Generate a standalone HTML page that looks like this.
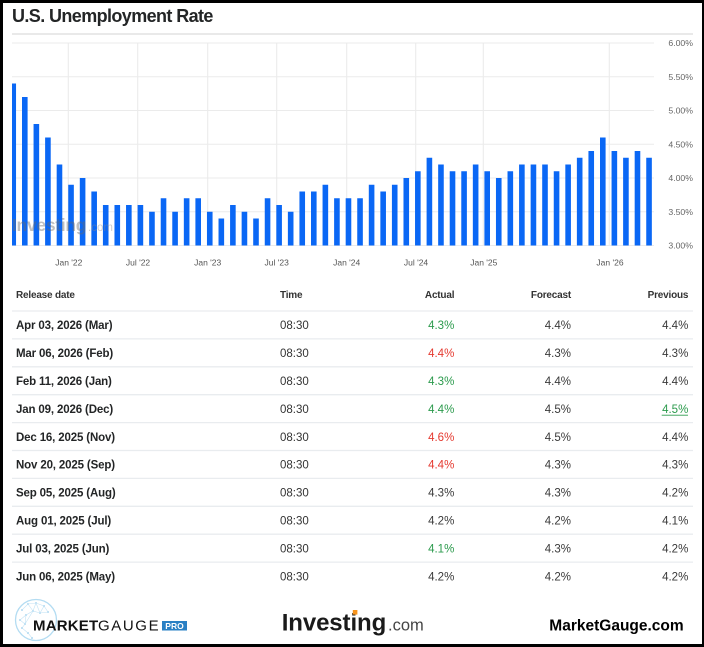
<!DOCTYPE html>
<html><head><meta charset="utf-8"><style>
html,body{margin:0;padding:0;background:#fff}
body{width:704px;height:647px;overflow:hidden;position:relative}
.frame{position:absolute;left:0;top:0;width:704px;height:647px;box-sizing:border-box;border-top:3px solid #000;border-left:3px solid #000;border-bottom:3px solid #000;border-right:2px solid #000;pointer-events:none}
svg{position:absolute;left:0;top:0}
text{font-family:"Liberation Sans",Arial,sans-serif}
</style></head><body>
<svg width="704" height="647" viewBox="0 0 704 647" xmlns="http://www.w3.org/2000/svg">
<rect x="0" y="0" width="704" height="647" fill="#fff"/>
<!-- title -->
<text x="12" y="22" font-size="18" font-weight="bold" fill="#232526" letter-spacing="-0.6">U.S. Unemployment Rate</text>
<rect x="12" y="33" width="681" height="2" fill="#e9e9e9"/>
<!-- gridlines -->
<g stroke="#ebebeb" stroke-width="1.1">
<line x1="12" y1="43" x2="654" y2="43"/>
<line x1="12" y1="76.75" x2="654" y2="76.75"/>
<line x1="12" y1="110.5" x2="654" y2="110.5"/>
<line x1="12" y1="144.25" x2="654" y2="144.25"/>
<line x1="12" y1="178" x2="654" y2="178"/>
<line x1="12" y1="211.75" x2="654" y2="211.75"/>
<line x1="12" y1="245.5" x2="654" y2="245.5"/>
<line x1="68.3" y1="43" x2="68.3" y2="245.5"/>
<line x1="137.7" y1="43" x2="137.7" y2="245.5"/>
<line x1="207.7" y1="43" x2="207.7" y2="245.5"/>
<line x1="276.7" y1="43" x2="276.7" y2="245.5"/>
<line x1="346.7" y1="43" x2="346.7" y2="245.5"/>
<line x1="415.7" y1="43" x2="415.7" y2="245.5"/>
<line x1="483.3" y1="43" x2="483.3" y2="245.5"/>
<line x1="609.3" y1="43" x2="609.3" y2="245.5"/>
</g>
<!-- bars -->
<g fill="#0a67f5">
<rect x="12" y="83.5" width="4.04" height="162"/>
<rect x="22.00" y="97" width="5.6" height="148.5"/>
<rect x="33.56" y="124" width="5.6" height="121.5"/>
<rect x="45.12" y="137.5" width="5.6" height="108"/>
<rect x="56.68" y="164.5" width="5.6" height="81"/>
<rect x="68.24" y="184.75" width="5.6" height="60.75"/>
<rect x="79.80" y="178" width="5.6" height="67.5"/>
<rect x="91.36" y="191.5" width="5.6" height="54"/>
<rect x="102.92" y="205" width="5.6" height="40.5"/>
<rect x="114.48" y="205" width="5.6" height="40.5"/>
<rect x="126.04" y="205" width="5.6" height="40.5"/>
<rect x="137.60" y="205" width="5.6" height="40.5"/>
<rect x="149.16" y="211.75" width="5.6" height="33.75"/>
<rect x="160.72" y="198.25" width="5.6" height="47.25"/>
<rect x="172.28" y="211.75" width="5.6" height="33.75"/>
<rect x="183.84" y="198.25" width="5.6" height="47.25"/>
<rect x="195.40" y="198.25" width="5.6" height="47.25"/>
<rect x="206.96" y="211.75" width="5.6" height="33.75"/>
<rect x="218.52" y="218.5" width="5.6" height="27"/>
<rect x="230.08" y="205" width="5.6" height="40.5"/>
<rect x="241.64" y="211.75" width="5.6" height="33.75"/>
<rect x="253.20" y="218.5" width="5.6" height="27"/>
<rect x="264.76" y="198.25" width="5.6" height="47.25"/>
<rect x="276.32" y="205" width="5.6" height="40.5"/>
<rect x="287.88" y="211.75" width="5.6" height="33.75"/>
<rect x="299.44" y="191.5" width="5.6" height="54"/>
<rect x="311.00" y="191.5" width="5.6" height="54"/>
<rect x="322.56" y="184.75" width="5.6" height="60.75"/>
<rect x="334.12" y="198.25" width="5.6" height="47.25"/>
<rect x="345.68" y="198.25" width="5.6" height="47.25"/>
<rect x="357.24" y="198.25" width="5.6" height="47.25"/>
<rect x="368.80" y="184.75" width="5.6" height="60.75"/>
<rect x="380.36" y="191.5" width="5.6" height="54"/>
<rect x="391.92" y="184.75" width="5.6" height="60.75"/>
<rect x="403.48" y="178" width="5.6" height="67.5"/>
<rect x="415.04" y="171.25" width="5.6" height="74.25"/>
<rect x="426.60" y="157.75" width="5.6" height="87.75"/>
<rect x="438.16" y="164.5" width="5.6" height="81"/>
<rect x="449.72" y="171.25" width="5.6" height="74.25"/>
<rect x="461.28" y="171.25" width="5.6" height="74.25"/>
<rect x="472.84" y="164.5" width="5.6" height="81"/>
<rect x="484.40" y="171.25" width="5.6" height="74.25"/>
<rect x="495.96" y="178" width="5.6" height="67.5"/>
<rect x="507.52" y="171.25" width="5.6" height="74.25"/>
<rect x="519.08" y="164.5" width="5.6" height="81"/>
<rect x="530.64" y="164.5" width="5.6" height="81"/>
<rect x="542.20" y="164.5" width="5.6" height="81"/>
<rect x="553.76" y="171.25" width="5.6" height="74.25"/>
<rect x="565.32" y="164.5" width="5.6" height="81"/>
<rect x="576.88" y="157.75" width="5.6" height="87.75"/>
<rect x="588.44" y="151" width="5.6" height="94.5"/>
<rect x="600.00" y="137.5" width="5.6" height="108"/>
<rect x="611.56" y="151" width="5.6" height="94.5"/>
<rect x="623.12" y="157.75" width="5.6" height="87.75"/>
<rect x="634.68" y="151" width="5.6" height="94.5"/>
<rect x="646.24" y="157.75" width="5.6" height="87.75"/>
</g>
<!-- watermark -->
<g opacity="0.42">
<text x="12" y="231" font-size="17.5" font-weight="bold" fill="#6a6a6a" letter-spacing="-0.3">Investing</text>
<text x="88" y="231" font-size="11.5" fill="#8a8a8a">.com</text>
</g>
<!-- y labels -->
<g font-size="8.7" fill="#666" text-anchor="end">
<text x="693" y="46">6.00%</text>
<text x="693" y="79.8">5.50%</text>
<text x="693" y="113.5">5.00%</text>
<text x="693" y="147.3">4.50%</text>
<text x="693" y="181">4.00%</text>
<text x="693" y="214.8">3.50%</text>
<text x="693" y="248.5">3.00%</text>
</g>
<!-- x labels -->
<g font-size="8.5" fill="#555" text-anchor="middle">
<text x="68.8" y="265.5">Jan '22</text>
<text x="138" y="265.5">Jul '22</text>
<text x="207.7" y="265.5">Jan '23</text>
<text x="276.7" y="265.5">Jul '23</text>
<text x="346.7" y="265.5">Jan '24</text>
<text x="416" y="265.5">Jul '24</text>
<text x="483.8" y="265.5">Jan '25</text>
<text x="610" y="265.5">Jan '26</text>
</g>
<!-- table header -->
<g font-size="10" font-weight="bold" fill="#333" letter-spacing="-0.2">
<text x="16" y="298">Release date</text>
<text x="280" y="298">Time</text>
<text x="454.3" y="298" text-anchor="end">Actual</text>
<text x="571" y="298" text-anchor="end">Forecast</text>
<text x="688.3" y="298" text-anchor="end">Previous</text>
</g>
<!-- dividers -->
<g stroke="#e9ecef" stroke-width="1.3">
<line x1="12" y1="311" x2="693" y2="311"/>
<line x1="12" y1="338.9" x2="693" y2="338.9"/>
<line x1="12" y1="366.8" x2="693" y2="366.8"/>
<line x1="12" y1="394.7" x2="693" y2="394.7"/>
<line x1="12" y1="422.6" x2="693" y2="422.6"/>
<line x1="12" y1="450.5" x2="693" y2="450.5"/>
<line x1="12" y1="478.4" x2="693" y2="478.4"/>
<line x1="12" y1="506.3" x2="693" y2="506.3"/>
<line x1="12" y1="534.2" x2="693" y2="534.2"/>
<line x1="12" y1="562.1" x2="693" y2="562.1"/>
</g>
<!-- dates -->
<g font-size="11.5" font-weight="bold" fill="#232526" letter-spacing="-0.15">
<text x="16" y="329.2">Apr 03, 2026 (Mar)</text>
<text x="16" y="357.1">Mar 06, 2026 (Feb)</text>
<text x="16" y="385">Feb 11, 2026 (Jan)</text>
<text x="16" y="412.9">Jan 09, 2026 (Dec)</text>
<text x="16" y="440.8">Dec 16, 2025 (Nov)</text>
<text x="16" y="468.7">Nov 20, 2025 (Sep)</text>
<text x="16" y="496.6">Sep 05, 2025 (Aug)</text>
<text x="16" y="524.5">Aug 01, 2025 (Jul)</text>
<text x="16" y="552.4">Jul 03, 2025 (Jun)</text>
<text x="16" y="580.3">Jun 06, 2025 (May)</text>
</g>
<!-- times -->
<g font-size="11.5" fill="#333">
<text x="280" y="329.2">08:30</text>
<text x="280" y="357.1">08:30</text>
<text x="280" y="385">08:30</text>
<text x="280" y="412.9">08:30</text>
<text x="280" y="440.8">08:30</text>
<text x="280" y="468.7">08:30</text>
<text x="280" y="496.6">08:30</text>
<text x="280" y="524.5">08:30</text>
<text x="280" y="552.4">08:30</text>
<text x="280" y="580.3">08:30</text>
</g>
<!-- actual -->
<g font-size="11.5" text-anchor="end">
<text x="454.3" y="329.2" fill="#2b9a4c">4.3%</text>
<text x="454.3" y="357.1" fill="#e5392f">4.4%</text>
<text x="454.3" y="385" fill="#2b9a4c">4.3%</text>
<text x="454.3" y="412.9" fill="#2b9a4c">4.4%</text>
<text x="454.3" y="440.8" fill="#e5392f">4.6%</text>
<text x="454.3" y="468.7" fill="#e5392f">4.4%</text>
<text x="454.3" y="496.6" fill="#3a3a3a">4.3%</text>
<text x="454.3" y="524.5" fill="#3a3a3a">4.2%</text>
<text x="454.3" y="552.4" fill="#2b9a4c">4.1%</text>
<text x="454.3" y="580.3" fill="#3a3a3a">4.2%</text>
</g>
<!-- forecast -->
<g font-size="11.5" text-anchor="end" fill="#3a3a3a">
<text x="571" y="329.2">4.4%</text>
<text x="571" y="357.1">4.3%</text>
<text x="571" y="385">4.4%</text>
<text x="571" y="412.9">4.5%</text>
<text x="571" y="440.8">4.5%</text>
<text x="571" y="468.7">4.3%</text>
<text x="571" y="496.6">4.3%</text>
<text x="571" y="524.5">4.2%</text>
<text x="571" y="552.4">4.3%</text>
<text x="571" y="580.3">4.2%</text>
</g>
<!-- previous -->
<g font-size="11.5" text-anchor="end" fill="#3a3a3a">
<text x="688.3" y="329.2">4.4%</text>
<text x="688.3" y="357.1">4.3%</text>
<text x="688.3" y="385">4.4%</text>
<text x="688.3" y="412.9" fill="#2b9a4c">4.5%</text>
<text x="688.3" y="440.8">4.4%</text>
<text x="688.3" y="468.7">4.3%</text>
<text x="688.3" y="496.6">4.2%</text>
<text x="688.3" y="524.5">4.1%</text>
<text x="688.3" y="552.4">4.2%</text>
<text x="688.3" y="580.3">4.2%</text>
</g>
<line x1="661.7" y1="415.2" x2="688" y2="415.2" stroke="#2b9a4c" stroke-width="0.9"/>
<!-- footer: MarketGauge PRO logo -->
<g opacity="0.85">
<circle cx="36" cy="620" r="20.5" fill="none" stroke="#a6d6f0" stroke-width="1.3"/>
<g fill="#9fd0ee">
<circle cx="22" cy="610" r="1"/><circle cx="28" cy="604" r="1"/><circle cx="36" cy="603" r="1"/>
<circle cx="44" cy="606" r="1"/><circle cx="20" cy="620" r="1"/><circle cx="26" cy="615" r="1"/>
<circle cx="33" cy="611" r="1"/><circle cx="40" cy="613" r="1"/><circle cx="48" cy="612" r="1"/>
<circle cx="22" cy="628" r="1"/><circle cx="28" cy="633" r="1"/><circle cx="25" cy="624" r="1"/>
<circle cx="32" cy="638" r="1"/>
</g>
<g stroke="#b8def3" stroke-width="0.6" fill="none">
<polyline points="22,610 28,604 36,603 44,606 48,612 40,613 33,611 26,615 20,620 25,624 22,628 28,633 32,638"/>
<polyline points="28,604 33,611 36,603 40,613 44,606"/>
<polyline points="26,615 25,624 33,611"/>
</g>
</g>
<text x="33" y="630.7" font-size="15" font-weight="bold" fill="#111" letter-spacing="0.2">MARKET</text>
<text x="98" y="630.7" font-size="15" fill="#111" letter-spacing="1.6">GAUGE</text>
<rect x="162" y="621" width="25" height="9.5" fill="#2a80c4"/>
<text x="174.5" y="629" font-size="8.5" font-weight="bold" fill="#fff" text-anchor="middle">PRO</text>
<!-- Investing.com logo -->
<text x="281.7" y="630.7" font-size="24" font-weight="bold" fill="#1a1a1a" letter-spacing="-0.1">Investing</text>
<rect x="352.8" y="610" width="4.6" height="4.6" fill="#f7941d"/>
<text x="388" y="630.7" font-size="16.5" fill="#444">.com</text>
<!-- MarketGauge.com -->
<text x="549.3" y="630.7" font-size="15.5" font-weight="bold" fill="#000">MarketGauge.com</text>
</svg>
<div class="frame"></div>
</body></html>
